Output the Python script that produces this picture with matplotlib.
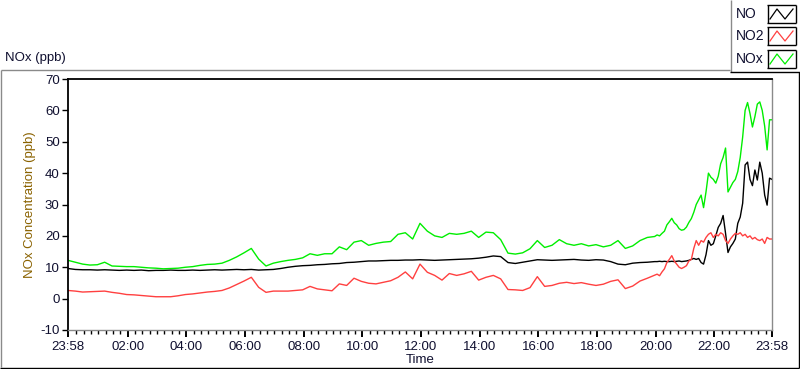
import numpy as np
import matplotlib
matplotlib.use("Agg")
import matplotlib.pyplot as plt
from matplotlib.lines import Line2D
from matplotlib.ticker import FixedLocator

# ---------------- data (hours after 23:58) ----------------
hours_coarse = np.arange(0, 20, 0.25)          # 15-min grid 0 .. 19.75
hours_fine = np.arange(0, 49) * (5 / 60) + 20  # 5-min grid 20 .. 24
hours = np.concatenate([hours_coarse, hours_fine])

no_coarse = [
    9.6, 9.3, 9.2, 9.2,
    9.1, 9.2, 9.1, 9.0,
    9.1, 9.0, 9.1, 8.9,
    9.0, 9.0, 9.1, 9.0,
    9.0, 9.1, 9.0, 9.1,
    9.2, 9.1, 9.2, 9.3,
    9.2, 9.3, 9.1, 9.2,
    9.3, 9.6, 10.0, 10.3,
    10.5, 10.6, 10.8, 10.9,
    11.1, 11.2, 11.5, 11.6,
    11.8, 12.0, 12.0, 12.1,
    12.2, 12.2, 12.3, 12.3,
    12.4, 12.3, 12.2, 12.3,
    12.4, 12.5, 12.6, 12.7,
    12.9, 13.2, 13.6, 13.4,
    11.5, 11.2, 11.6, 12.0,
    12.4, 12.3, 12.2, 12.3,
    12.4, 12.5, 12.3, 12.2,
    12.4, 12.3, 11.8, 11.0,
    10.8, 11.3, 11.5, 11.6,
]
no_fine = [
    11.8, 11.8, 11.9, 11.8, 11.9, 11.8, 11.8, 11.9, 11.8, 11.9, 12.0, 11.8,
    11.9, 12.0, 12.2, 12.5, 12.8, 12.5, 12.8, 11.5, 11.0, 14.0, 18.5, 17.0,
    17.5, 20.0, 22.7, 24.0, 26.5, 20.8, 14.7, 16.5, 17.6, 19.0, 24.0, 26.0,
    30.4, 42.6, 43.5, 38.0, 36.0, 41.0, 37.8, 43.5, 40.0, 33.0, 29.8, 38.4,
    38.0,
]

no2_coarse = [
    2.6, 2.4, 2.1, 2.2,
    2.3, 2.4, 2.0, 1.7,
    1.3, 1.2, 1.0, 0.8,
    0.6, 0.6, 0.6, 0.9,
    1.3, 1.5, 1.8, 2.1,
    2.3, 2.6, 3.4, 4.5,
    5.6, 6.8, 3.6, 2.0,
    2.4, 2.4, 2.4, 2.6,
    2.8, 3.9, 3.1, 2.8,
    2.5, 4.7, 4.2, 6.5,
    5.5, 4.9, 4.7, 5.2,
    5.7, 6.8, 8.5, 6.3,
    11.0, 8.4, 7.4, 5.9,
    8.0, 7.4, 7.9, 8.7,
    5.9, 6.8, 7.4, 6.3,
    2.9, 2.8, 2.6, 3.5,
    7.0, 3.9, 4.2, 4.9,
    5.2, 4.8, 5.1, 4.6,
    4.2, 4.6, 5.5, 6.0,
    3.2, 4.0, 5.6, 6.5,
]
no2_fine = [
    7.5, 7.8, 7.3, 8.5, 9.5, 11.5, 12.5, 13.7, 12.0, 11.0, 10.0, 9.6,
    10.0, 10.5, 12.0, 12.5, 16.0, 18.5, 17.0, 18.5, 18.0, 19.5, 20.5, 21.0,
    19.5, 20.5, 20.0, 21.0, 20.5, 18.5, 17.6, 19.0, 20.0, 20.8, 20.5, 21.0,
    20.0, 20.5, 19.5, 20.0, 19.0, 19.5, 18.8, 18.5, 19.0, 17.6, 19.5, 19.0,
    19.0,
]

nox_coarse = [
    12.2, 11.6, 11.0, 10.7,
    10.8, 11.6, 10.4, 10.3,
    10.2, 10.2, 10.0, 9.8,
    9.7, 9.5, 9.6, 9.7,
    10.0, 10.2, 10.6, 10.9,
    11.0, 11.3, 12.2, 13.3,
    14.6, 16.0, 12.6, 10.4,
    11.3, 11.8, 12.2, 12.5,
    13.0, 14.3, 13.8, 14.3,
    14.3, 16.5, 15.6, 18.0,
    18.5, 17.0, 17.6, 18.0,
    18.2, 20.5, 21.0, 19.0,
    24.0, 21.5, 20.0, 19.5,
    20.8, 20.5, 20.8, 21.5,
    19.5, 21.2, 21.0, 18.8,
    14.5, 14.2, 14.6, 15.9,
    18.5, 16.3, 17.0, 18.8,
    17.5, 17.0, 17.5, 16.8,
    17.2, 16.5, 17.0, 18.5,
    16.0, 16.8, 18.5, 19.5,
]
nox_fine = [
    19.8, 20.3, 20.0, 20.8, 21.5, 23.5, 24.5, 25.6, 24.2, 23.5, 22.3, 21.8,
    22.0, 22.8, 24.3, 25.5, 27.5, 30.0, 31.5, 33.0, 29.0, 34.0, 40.0, 38.7,
    38.0, 36.8, 39.0, 43.0, 45.0, 48.0, 34.0, 35.5, 37.0, 38.0, 40.5, 45.0,
    51.5, 60.0, 62.5, 59.0, 54.7, 58.0, 62.0, 62.7, 60.0, 55.0, 47.4, 57.0,
    57.0,
]

series_names = ["NO", "NO2", "NOx"]
series_colors = ["#000000", "#ff4040", "#00ee00"]
series_values = [no_coarse + no_fine, no2_coarse + no2_fine, nox_coarse + nox_fine]

x_tick_pos = [0, 2.0333, 4.0333, 6.0333, 8.0333, 10.0333, 12.0333,
              14.0333, 16.0333, 18.0333, 20.0333, 22.0333, 24]
x_tick_labels = ["23:58", "02:00", "04:00", "06:00", "08:00", "10:00", "12:00",
                 "14:00", "16:00", "18:00", "20:00", "22:00", "23:58"]
y_ticks = [-10, 0, 10, 20, 30, 40, 50, 60, 70]

# ---------------- figure ----------------
W, H = 800, 369
plt.rcParams['font.family'] = ['Liberation Sans', 'DejaVu Sans']
fig = plt.figure(figsize=(W / 100, H / 100), dpi=100)
fig.patch.set_facecolor("white")


def fx(px):
    return px / W


def fy(py):
    return 1 - py / H


def fline(x0, y0, x1, y1, color, lw=1.0):
    fig.add_artist(Line2D([fx(x0), fx(x1)], [fy(y0), fy(y1)],
                          transform=fig.transFigure, color=color, lw=lw,
                          solid_capstyle="butt"))


# outer panel frame
fline(0.5, 69.5, 730, 69.5, "#8a8a8a")
fline(0.5, 69.5, 0.5, 367, "#8a8a8a")
fline(0, 367.5, 799, 367.5, "#000000")
fline(798.5, 72, 798.5, 368, "#000000")

ax = fig.add_axes([fx(68), fy(330), fx(772) - fx(68), fy(79) - fy(330)])
for name, col, vals in zip(series_names, series_colors, series_values):
    ax.plot(hours, vals, color=col, lw=1.0)

ax.set_xlim(0, 24)
ax.set_ylim(-10, 70)
ax.set_yticks(y_ticks)
ax.set_yticklabels([str(v) for v in y_ticks])
ax.set_xticks(x_tick_pos)
ax.set_xticklabels(x_tick_labels)
minor = [2.0333 + 0.25 * k for k in range(-8, 89)]
minor = [m for m in minor if 0.15 < m < 23.85 and
         all(abs(m - p) > 0.05 for p in x_tick_pos)]
ax.xaxis.set_minor_locator(FixedLocator(minor))

ax.tick_params(axis="y", direction="out", length=4, width=1, pad=2,
               labelsize=9.5, colors="#000000", labelcolor="#101030")
ax.tick_params(axis="x", which="major", direction="out", length=5, width=1.4,
               pad=3, labelsize=9.5, labelcolor="#101030")
ax.tick_params(axis="x", which="minor", direction="out", length=3, width=1)

for s in ["left", "top"]:
    ax.spines[s].set_color("#000000")
    ax.spines[s].set_linewidth(1.3)
for s in ["right", "bottom"]:
    ax.spines[s].set_color("#8a8a8a")
    ax.spines[s].set_linewidth(1.0)

fig.text(fx(30), fy(205), "NOx Concentration (ppb)", rotation=90,
         ha="center", va="center", fontsize=9.5, color="#8a6200")
fig.text(fx(420), fy(360), "Time", ha="center", va="center",
         fontsize=9.5, color="#101030")
fig.text(fx(5), fy(58), "NOx (ppb)", ha="left", va="center",
         fontsize=9.5, color="#101030")

# legend panel
fline(730.5, 0, 730.5, 72, "#8a8a8a")
fline(730, 71.5, 800, 71.5, "#000000")
row_y = [14, 36, 59]
for name, col, yy in zip(series_names, series_colors, row_y):
    fig.text(fx(736), fy(yy), name, ha="left", va="center",
             fontsize=10, color="#101030")
    # swatch box
    x0, x1, y0, y1 = 767, 796, yy - 9, yy + 9
    fline(x0, y0, x1, y0, "#000000")
    fline(x0, y1, x1, y1, "#000000")
    fline(x0 + 0.5, y0, x0 + 0.5, y1, "#000000")
    fline(x1 - 0.5, y0, x1 - 0.5, y1, "#000000")
    zx = [x0 + 3, x0 + 10, x0 + 18, x1 - 3]
    zy = [y1 - 4, y0 + 4, y1 - 4, y0 + 4]
    fig.add_artist(Line2D([fx(v) for v in zx], [fy(v) for v in zy],
                          transform=fig.transFigure, color=col, lw=0.9))

fig.savefig("out.png", dpi=100, facecolor="white")
